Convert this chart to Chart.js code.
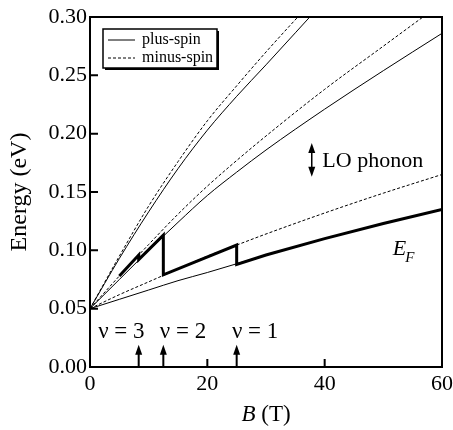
<!DOCTYPE html>
<html>
<head>
<meta charset="utf-8">
<script src="https://cdn.jsdelivr.net/npm/chart.js@4.4.0/dist/chart.umd.min.js"></script>
<style>
  body { margin: 0; background: #fff; }
</style>
</head>
<body>
<canvas id="myChart" width="453" height="430"></canvas>
<script>
// Landau levels (plus / minus spin) vs field, with the Fermi energy

const bField = [0, 5, 10, 15, 20, 25, 30, 40, 50, 60];   // B (T)

const plusSpin0  = [0.050, 0.058, 0.066, 0.074, 0.081, 0.0885, 0.096, 0.110, 0.123, 0.135];
const minusSpin0 = [0.050, 0.062, 0.073, 0.084, 0.095, 0.1045, 0.114, 0.132, 0.149, 0.165];
const plusSpin1  = [0.050, 0.075, 0.100, 0.124, 0.147, 0.167, 0.186, 0.221, 0.254, 0.286];
const minusSpin1 = [0.050, 0.078, 0.105, 0.131, 0.155, 0.177, 0.198, 0.238, 0.275, 0.312];
const plusSpin2  = [0.050, 0.093, 0.133, 0.170, 0.203, 0.232, 0.259, 0.314, null, null];
const minusSpin2 = [0.050, 0.095, 0.138, 0.176, 0.211, 0.241, 0.270, 0.325, null, null];

// Fermi energy (thick line), jumps at integer filling factors
const fermiB = [5, 8.3, 8.3, 12.5, 12.5, 25, 25, 30, 40, 50, 60];
const fermiE = [0.078, 0.096, 0.092, 0.113, 0.079, 0.1045, 0.088, 0.096, 0.110, 0.123, 0.135];

// filling factor markers
const nuB = [8.3, 12.5, 25];
const nuText = ['ν = 3', 'ν = 2', 'ν = 1'];

const xTicks = [0, 20, 40, 60];
const yTicks = [0, 0.05, 0.10, 0.15, 0.20, 0.25, 0.30];

const serif = '"Liberation Serif", "Times New Roman", serif';

function toPoints(xs, ys) {
    return xs.map((x, i) => ({ x: x, y: ys[i] }));
}

function level(label, ys, dashed) {
    return {
        label: label,
        data: toPoints(bField, ys),
        borderColor: '#000',
        borderWidth: 1,
        borderDash: dashed ? [3, 2] : [],
        pointRadius: 0,
        cubicInterpolationMode: 'monotone',
        spanGaps: false
    };
}

function arrowHead(ctx, x, y, dir) {   // dir -1 = pointing up, 1 = down
    ctx.beginPath();
    ctx.moveTo(x, y);
    ctx.lineTo(x - 3.5, y - dir * 10);
    ctx.lineTo(x + 3.5, y - dir * 10);
    ctx.closePath();
    ctx.fill();
}

// frame, inward ticks, arrows, legend box and labels
const extras = {
    id: 'extras',
    afterDraw(chart) {
        const ctx = chart.ctx;
        const a = chart.chartArea;
        const xs = chart.scales.x;
        const ys = chart.scales.y;
        ctx.save();
        ctx.strokeStyle = '#000';
        ctx.fillStyle = '#000';

        // frame
        ctx.lineWidth = 2;
        ctx.strokeRect(a.left, a.top, a.right - a.left, a.bottom - a.top);

        // inward ticks
        ctx.lineWidth = 2;
        ctx.beginPath();
        yTicks.slice(1, -1).forEach(v => {
            const y = ys.getPixelForValue(v);
            ctx.moveTo(a.left, y);
            ctx.lineTo(a.left + 8, y);
        });
        xTicks.slice(1, -1).forEach(v => {
            const x = xs.getPixelForValue(v);
            ctx.moveTo(x, a.bottom);
            ctx.lineTo(x, a.bottom - 8);
        });
        ctx.stroke();

        // filling factor arrows
        ctx.lineWidth = 2;
        nuB.forEach(b => {
            const x = xs.getPixelForValue(b);
            const yTop = ys.getPixelForValue(0.019);
            ctx.beginPath();
            ctx.moveTo(x, a.bottom);
            ctx.lineTo(x, yTop + 6);
            ctx.stroke();
            arrowHead(ctx, x, yTop, -1);
        });

        ctx.font = '23px ' + serif;
        ctx.textBaseline = 'alphabetic';
        ctx.textAlign = 'left';
        const nuPos = [1.4, 11.9, 24.2];
        nuText.forEach((t, i) => {
            ctx.fillText(t, xs.getPixelForValue(nuPos[i]), ys.getPixelForValue(0.025));
        });

        // LO phonon double arrow
        const lx = xs.getPixelForValue(37.8);
        const y1 = ys.getPixelForValue(0.192);
        const y2 = ys.getPixelForValue(0.163);
        ctx.lineWidth = 1.5;
        ctx.beginPath();
        ctx.moveTo(lx, y1 + 6);
        ctx.lineTo(lx, y2 - 6);
        ctx.stroke();
        arrowHead(ctx, lx, y1, -1);
        arrowHead(ctx, lx, y2, 1);
        ctx.font = '22px ' + serif;
        ctx.fillText('LO phonon', xs.getPixelForValue(39.6), ys.getPixelForValue(0.1714));

        // E_F label
        const ex = xs.getPixelForValue(51.6);
        const ey = ys.getPixelForValue(0.096);
        ctx.font = 'italic 22px ' + serif;
        ctx.fillText('E', ex, ey);
        const ew = ctx.measureText('E').width;
        ctx.font = 'italic 15px ' + serif;
        ctx.fillText('F', ex + ew - 1, ey + 7);

        // x axis title: italic B + (T)
        ctx.font = 'italic 23px ' + serif;
        const wB = ctx.measureText('B').width;
        ctx.font = '23px ' + serif;
        const wT = ctx.measureText(' (T)').width;
        const cx = (a.left + a.right) / 2 - (wB + wT) / 2;
        ctx.font = 'italic 23px ' + serif;
        ctx.fillText('B', cx, 421);
        ctx.font = '23px ' + serif;
        ctx.fillText(' (T)', cx + wB, 421);

        // legend box
        const bx = a.left + 13, by = a.top + 12, bw = 114, bh = 39;
        ctx.fillStyle = '#fff';
        ctx.fillRect(bx, by, bw, bh);
        ctx.fillStyle = '#000';
        ctx.lineWidth = 1.5;
        ctx.strokeRect(bx, by, bw, bh);
        ctx.fillRect(bx + bw, by + 2, 2, bh);
        ctx.fillRect(bx + 2, by + bh, bw, 2);
        const entries = [['plus-spin', []], ['minus-spin', [3, 2]]];
        ctx.font = '16px ' + serif;
        ctx.textBaseline = 'middle';
        entries.forEach((e, i) => {
            const y = by + 11 + i * 18;
            ctx.lineWidth = 1;
            ctx.setLineDash(e[1]);
            ctx.beginPath();
            ctx.moveTo(bx + 5, y);
            ctx.lineTo(bx + 32, y);
            ctx.stroke();
            ctx.setLineDash([]);
            ctx.fillText(e[0], bx + 39, y);
        });
        ctx.restore();
    }
};

const ctx = document.getElementById('myChart');

const myChart = new Chart(ctx, {
    type: 'line',
    data: {
        datasets: [
            level('plus-spin', plusSpin0, false),
            level('minus-spin', minusSpin0, true),
            level('plus-spin', plusSpin1, false),
            level('minus-spin', minusSpin1, true),
            level('plus-spin', plusSpin2, false),
            level('minus-spin', minusSpin2, true),
            {
                label: 'E_F',
                data: toPoints(fermiB, fermiE),
                borderColor: '#000',
                borderWidth: 3,
                pointRadius: 0,
                tension: 0,
                borderJoinStyle: 'miter'
            }
        ]
    },
    options: {
        responsive: false,
        animation: false,
        layout: { padding: { top: 17, right: 11, left: 0, bottom: 0 } },
        plugins: {
            legend: { display: false },
            tooltip: { enabled: false }
        },
        scales: {
            x: {
                type: 'linear',
                min: 0,
                max: 60,
                afterBuildTicks: s => { s.ticks = xTicks.map(v => ({ value: v })); },
                afterFit: s => {
                    s.height = 63;
                    s.paddingLeft = 0;
                    s.paddingRight = 0;
                },
                grid: { display: false, drawTicks: false },
                border: { display: false },
                ticks: {
                    padding: 4,
                    maxRotation: 0,
                    color: '#000',
                    font: { family: serif, size: 22 },
                    callback: v => String(v)
                }
            },
            y: {
                type: 'linear',
                min: 0,
                max: 0.3,
                afterBuildTicks: s => { s.ticks = yTicks.map(v => ({ value: v })); },
                afterFit: s => { s.width = 90; },
                grid: { display: false, drawTicks: false },
                border: { display: false },
                ticks: {
                    padding: 3,
                    color: '#000',
                    font: { family: serif, size: 22 },
                    callback: v => Number(v).toFixed(2)
                },
                title: {
                    display: true,
                    text: 'Energy (eV)',
                    color: '#000',
                    font: { family: serif, size: 24 },
                    padding: { top: 5, bottom: 0 }
                }
            }
        }
    },
    plugins: [extras]
});
</script>
</body>
</html>
